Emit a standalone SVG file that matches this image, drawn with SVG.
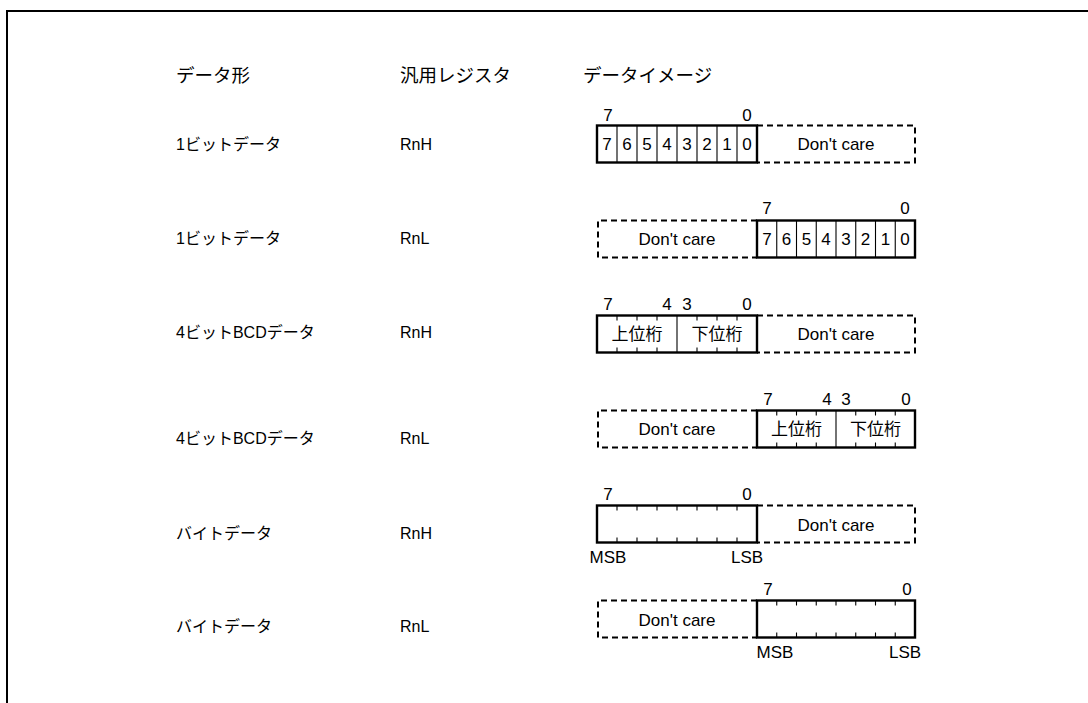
<svg xmlns="http://www.w3.org/2000/svg" width="1088" height="703" viewBox="0 0 1088 703">
<style>
text{font-family:"Liberation Sans","Noto Sans CJK JP",sans-serif;font-size:17px;fill:#000}
.c{text-anchor:middle}
.h{font-size:18.5px}
.lb{font-size:16px}
.box{fill:none;stroke:#000;stroke-width:2.4}
.div{stroke:#000;stroke-width:1.1}
.tick{stroke:#000;stroke-width:1.1}
.dash{fill:none;stroke:#000;stroke-width:2;stroke-dasharray:6 4}
.frame{fill:none;stroke:#000;stroke-width:2}
</style>
<rect width="1088" height="703" fill="#fff"/>
<path class="frame" d="M7,703 V11 H1088"/>

<g id="headers">
<text class="h" x="176" y="82">データ形</text>
<text class="h" x="400" y="82">汎用レジスタ</text>
<text class="h" x="583" y="82">データイメージ</text>
</g>

<g id="row1">
<text class="lb" x="176" y="150">1ビットデータ</text>
<text class="lb" x="400" y="150">RnH</text>
<text class="c" x="608" y="121">7</text>
<text class="c" x="747" y="121">0</text>
<path class="dash" d="M757,125.5 H915 V162.5 H757"/>
<rect class="box" x="597" y="125.5" width="160" height="37"/>
<path class="div" d="M617,125.5V162.5M637,125.5V162.5M657,125.5V162.5M677,125.5V162.5M697,125.5V162.5M717,125.5V162.5M737,125.5V162.5"/>
<text class="c" x="607" y="150">7</text><text class="c" x="627" y="150">6</text><text class="c" x="647" y="150">5</text><text class="c" x="667" y="150">4</text>
<text class="c" x="687" y="150">3</text><text class="c" x="707" y="150">2</text><text class="c" x="727" y="150">1</text><text class="c" x="747" y="150">0</text>
<text class="c" x="836" y="150">Don't care</text>
</g>

<g id="row2">
<text class="lb" x="176" y="244">1ビットデータ</text>
<text class="lb" x="400" y="244">RnL</text>
<text class="c" x="767" y="214">7</text>
<text class="c" x="905" y="214">0</text>
<path class="dash" d="M757,220.5 H598 V257.5 H757"/>
<rect class="box" x="757" y="220.5" width="158" height="37"/>
<path class="div" d="M776.75,220.5V257.5M796.5,220.5V257.5M816.25,220.5V257.5M836,220.5V257.5M855.75,220.5V257.5M875.5,220.5V257.5M895.25,220.5V257.5"/>
<text class="c" x="766.9" y="245">7</text><text class="c" x="786.6" y="245">6</text><text class="c" x="806.4" y="245">5</text><text class="c" x="826.1" y="245">4</text>
<text class="c" x="845.9" y="245">3</text><text class="c" x="865.6" y="245">2</text><text class="c" x="885.4" y="245">1</text><text class="c" x="905.1" y="245">0</text>
<text class="c" x="677" y="245">Don't care</text>
</g>

<g id="row3">
<text class="lb" x="176" y="338">4ビットBCDデータ</text>
<text class="lb" x="400" y="338">RnH</text>
<text class="c" x="608" y="310">7</text>
<text class="c" x="667" y="310">4</text>
<text class="c" x="687" y="310">3</text>
<text class="c" x="747" y="310">0</text>
<path class="dash" d="M757,315.5 H915 V352.5 H757"/>
<rect class="box" x="597" y="315.5" width="160" height="37"/>
<path class="div" d="M677,315.5V352.5"/>
<path class="tick" d="M617,315.5v5M637,315.5v5M657,315.5v5M697,315.5v5M717,315.5v5M737,315.5v5M617,352.5v-5M637,352.5v-5M657,352.5v-5M697,352.5v-5M717,352.5v-5M737,352.5v-5"/>
<text class="c" x="637" y="340">上位桁</text>
<text class="c" x="717" y="340">下位桁</text>
<text class="c" x="836" y="340">Don't care</text>
</g>

<g id="row4">
<text class="lb" x="176" y="444">4ビットBCDデータ</text>
<text class="lb" x="400" y="444">RnL</text>
<text class="c" x="768" y="405">7</text>
<text class="c" x="827" y="405">4</text>
<text class="c" x="846" y="405">3</text>
<text class="c" x="906" y="405">0</text>
<path class="dash" d="M757,410.5 H598 V447.5 H757"/>
<rect class="box" x="757" y="410.5" width="158" height="37"/>
<path class="div" d="M836,410.5V447.5"/>
<path class="tick" d="M776.75,410.5v5M796.5,410.5v5M816.25,410.5v5M855.75,410.5v5M875.5,410.5v5M895.25,410.5v5M776.75,447.5v-5M796.5,447.5v-5M816.25,447.5v-5M855.75,447.5v-5M875.5,447.5v-5M895.25,447.5v-5"/>
<text class="c" x="796.5" y="435">上位桁</text>
<text class="c" x="875.5" y="435">下位桁</text>
<text class="c" x="677" y="435">Don't care</text>
</g>

<g id="row5">
<text class="lb" x="176" y="539">バイトデータ</text>
<text class="lb" x="400" y="539">RnH</text>
<text class="c" x="608" y="500">7</text>
<text class="c" x="747" y="500">0</text>
<path class="dash" d="M757,505.5 H915 V542.5 H757"/>
<rect class="box" x="597" y="505.5" width="160" height="37"/>
<path class="tick" d="M617,505.5v5M637,505.5v5M657,505.5v5M677,505.5v5M697,505.5v5M717,505.5v5M737,505.5v5M617,542.5v-5M637,542.5v-5M657,542.5v-5M677,542.5v-5M697,542.5v-5M717,542.5v-5M737,542.5v-5"/>
<text class="c" x="836" y="531">Don't care</text>
<text class="c" x="608" y="563">MSB</text>
<text class="c" x="747" y="563">LSB</text>
</g>

<g id="row6">
<text class="lb" x="176" y="632">バイトデータ</text>
<text class="lb" x="400" y="632">RnL</text>
<text class="c" x="768" y="595">7</text>
<text class="c" x="907" y="595">0</text>
<path class="dash" d="M757,600.5 H598 V637.5 H757"/>
<rect class="box" x="757" y="600.5" width="158" height="37"/>
<path class="tick" d="M776.75,600.5v5M796.5,600.5v5M816.25,600.5v5M836,600.5v5M855.75,600.5v5M875.5,600.5v5M895.25,600.5v5M776.75,637.5v-5M796.5,637.5v-5M816.25,637.5v-5M836,637.5v-5M855.75,637.5v-5M875.5,637.5v-5M895.25,637.5v-5"/>
<text class="c" x="677" y="626">Don't care</text>
<text class="c" x="775" y="658">MSB</text>
<text class="c" x="905" y="658">LSB</text>
</g>
</svg>
